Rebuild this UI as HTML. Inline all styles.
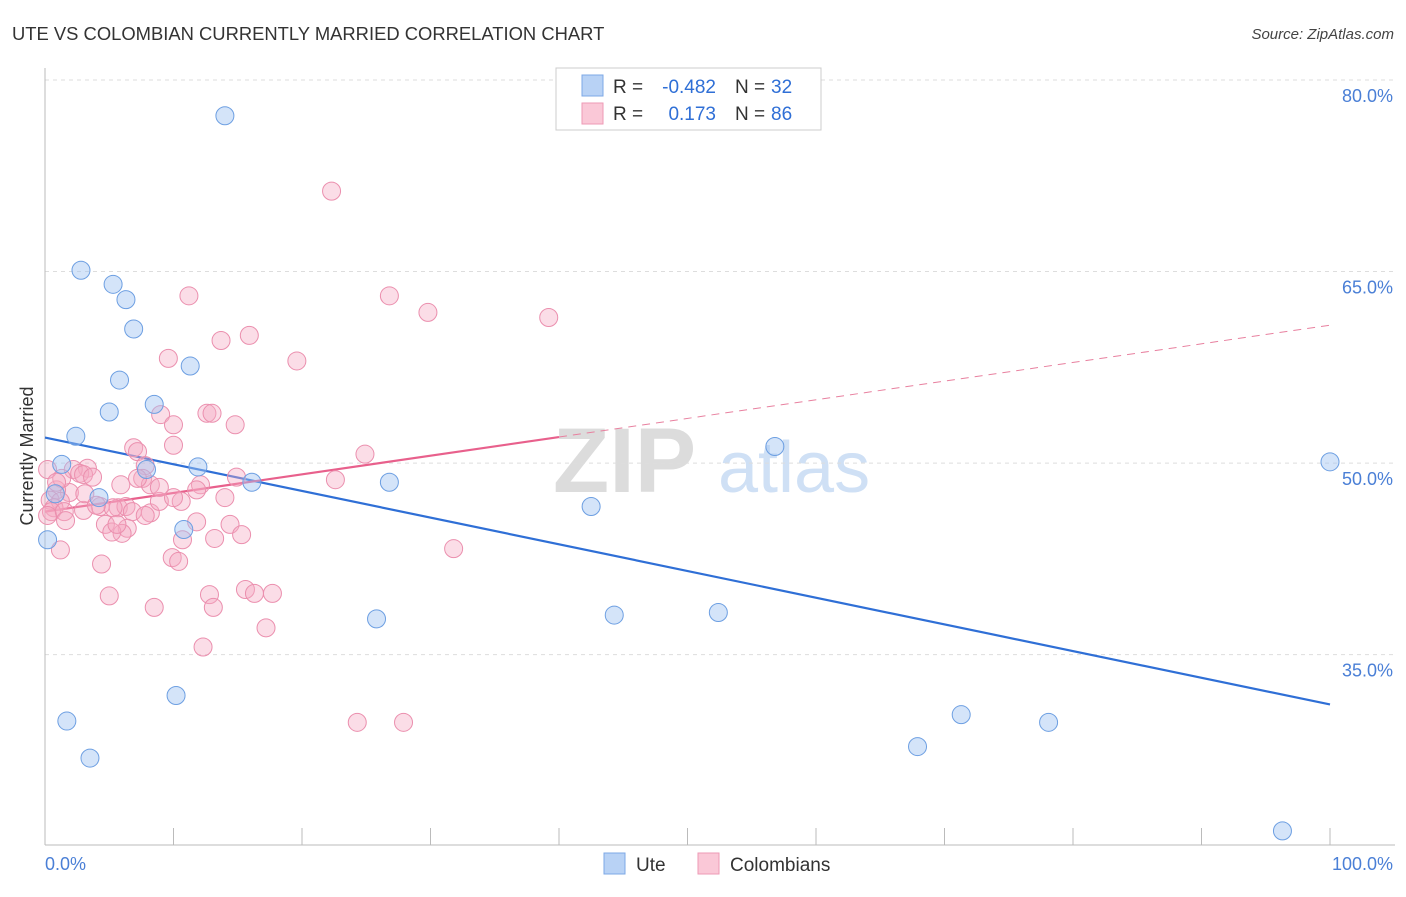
<!DOCTYPE html>
<html><head><meta charset="utf-8"><style>
body{margin:0;background:#fff;font-family:"Liberation Sans",sans-serif;}
svg text{font-family:"Liberation Sans",sans-serif;}
</style></head><body>
<svg id="chart" width="1406" height="892" xmlns="http://www.w3.org/2000/svg">
<text x="12" y="40" font-size="18.4" fill="#333">UTE VS COLOMBIAN CURRENTLY MARRIED CORRELATION CHART</text>
<text x="1394" y="39" font-size="15" fill="#444" font-style="italic" text-anchor="end">Source: ZipAtlas.com</text>
<g>
<text x="553" y="492" font-size="92" fill="#dcdcdc" font-family="Liberation Serif" font-weight="bold">ZIP</text>
<text x="718" y="492" font-size="72" fill="#cfe0f5">atlas</text>
</g>
<g id="grid"></g>
<g id="axes"></g>
<g id="trends"></g>
<g id="points"></g>
<g>
<rect x="556" y="68" width="265" height="62" fill="#fff" stroke="#ccc"/>
<rect x="582" y="75" width="21" height="21" fill="#b8d2f5" stroke="#7da8e6"/>
<rect x="582" y="103" width="21" height="21" fill="#fac8d7" stroke="#ee9ab5"/>
<text x="613" y="93" font-size="19" fill="#333">R =</text>
<text x="716" y="93" font-size="19" fill="#2f6fd6" text-anchor="end">-0.482</text>
<text x="735" y="93" font-size="19" fill="#333">N =</text>
<text x="771" y="93" font-size="19" fill="#2f6fd6">32</text>
<text x="613" y="120" font-size="19" fill="#333">R =</text>
<text x="716" y="120" font-size="19" fill="#2f6fd6" text-anchor="end">0.173</text>
<text x="735" y="120" font-size="19" fill="#333">N =</text>
<text x="771" y="120" font-size="19" fill="#2f6fd6">86</text>
</g>
<g>
<rect x="604" y="853" width="21" height="21" fill="#b8d2f5" stroke="#7da8e6"/>
<text x="636" y="871" font-size="19" fill="#333">Ute</text>
<rect x="698" y="853" width="21" height="21" fill="#fac8d7" stroke="#ee9ab5"/>
<text x="730" y="871" font-size="19" fill="#333">Colombians</text>
</g>
<text transform="translate(33,456) rotate(-90)" font-size="18" fill="#333" text-anchor="middle">Currently Married</text>
<text x="45" y="870" font-size="18" fill="#4a7fd6">0.0%</text>
<text x="1393" y="870" font-size="18" fill="#4a7fd6" text-anchor="end">100.0%</text>
</svg>
<script>
const yTicks=[80,65,50,35];
const yTickLabels=["80.0%","65.0%","50.0%","35.0%"];
const uteX=[14.0,2.8,5.3,6.3,6.9,5.8,11.3,5.0,8.5,2.4,1.3,7.9,11.9,16.1,4.2,0.8,0.2,10.8,26.8,25.8,10.2,1.7,3.5,42.5,44.3,52.4,56.8,71.3,78.1,67.9,96.3,100];
const uteY=[77.2,65.1,64.0,62.8,60.5,56.5,57.6,54.0,54.6,52.1,49.9,49.5,49.7,48.5,47.3,47.6,44.0,44.8,48.5,37.8,31.8,29.8,26.9,46.6,38.1,38.3,51.3,30.3,29.7,27.8,21.2,50.1];
const colX=[22.3,11.2,26.8,29.8,39.2,15.9,13.7,9.6,19.6,9.0,12.6,13.0,14.8,10.0,6.9,7.2,10.0,24.9,7.8,3.3,2.2,2.7,3.0,3.7,14.9,22.6,7.6,8.2,5.9,12.1,11.8,1.9,0.9,0.4,1.2,0.7,0.5,0.2,1.5,1.6,4.3,3.0,5.7,6.3,6.8,8.2,8.9,10.6,14.0,4.7,6.4,6.0,5.2,7.8,11.8,14.4,15.3,10.7,13.2,9.9,10.4,31.8,1.2,4.4,5.0,8.5,12.8,13.1,15.6,16.3,17.7,17.2,12.3,24.3,27.9,1.3,0.2,0.9,3.1,5.3,7.2,8.9,4.0,10.0,5.6];
const colY=[71.3,63.1,63.1,61.8,61.4,60.0,59.6,58.2,58.0,53.8,53.9,53.9,53.0,53.0,51.2,50.9,51.4,50.7,49.8,49.6,49.5,49.2,49.1,48.9,48.9,48.7,48.8,48.3,48.3,48.3,47.9,47.7,47.9,47.1,47.0,46.5,46.2,45.9,46.2,45.5,46.6,46.3,46.5,46.6,46.2,46.1,47.0,47.0,47.3,45.2,44.9,44.5,44.6,45.9,45.4,45.2,44.4,44.0,44.1,42.6,42.3,43.3,43.2,42.1,39.6,38.7,39.7,38.7,40.1,39.8,39.8,37.1,35.6,29.7,29.7,48.8,49.5,48.5,47.6,46.5,48.8,48.1,46.7,47.3,45.2];
const uteTrend=[52.0,31.1];
const colTrend=[46.2,60.8];
const colSolidEnd=40;

const NS="http://www.w3.org/2000/svg";
const sx=v=>45+v*12.85;
const sy=v=>80+(80-v)*12.77;
function mk(tag,attrs,parent){const e=document.createElementNS(NS,tag);for(const k in attrs)e.setAttribute(k,attrs[k]);parent.appendChild(e);return e;}
const grid=document.getElementById('grid'),axes=document.getElementById('axes'),tr=document.getElementById('trends'),pts=document.getElementById('points');
yTicks.forEach((t,i)=>{
 const l=mk('line',{x1:45,x2:1395,y1:sy(t),y2:sy(t),stroke:'#ddd','stroke-dasharray':'4,4'},grid);
 
 
 const tx=mk('text',{x:1393,y:sy(t)+22,'font-size':18,fill:'#4a7fd6','text-anchor':'end'},grid);
 tx.textContent=yTickLabels[i];
 
 
});
const ya=mk('line',{x1:45,x2:45,y1:68,y2:845,stroke:'#bbb'},axes);


const xa=mk('line',{x1:45,x2:1395,y1:845,y2:845,stroke:'#bbb'},axes);


for(let i=1;i<=10;i++){
 const tk=mk('line',{x1:sx(i*10),x2:sx(i*10),y1:828,y2:845,stroke:'#bbb'},axes);
 
 
}
const colLine=v=>colTrend[0]+(colTrend[1]-colTrend[0])*v/100;
const ut=mk('line',{x1:sx(0),y1:sy(uteTrend[0]),x2:sx(100),y2:sy(uteTrend[1]),stroke:'#2f6fd6','stroke-width':2.2},tr);


const cs=mk('line',{x1:sx(0),y1:sy(colLine(0)),x2:sx(colSolidEnd),y2:sy(colLine(colSolidEnd)),stroke:'#e8608c','stroke-width':2.2},tr);


const cd=mk('line',{x1:sx(colSolidEnd),y1:sy(colLine(colSolidEnd)),x2:sx(100),y2:sy(colLine(100)),stroke:'#e8809f','stroke-width':1,'stroke-dasharray':'8,6'},tr);


colX.forEach((x,i)=>{
 const c=mk('circle',{cx:sx(x),cy:sy(colY[i]),r:9,fill:'rgba(246,170,196,0.4)',stroke:'#eb8fae','stroke-width':1},pts);
 
 
});
uteX.forEach((x,i)=>{
 const c=mk('circle',{cx:sx(x),cy:sy(uteY[i]),r:9,fill:'rgba(160,196,242,0.45)',stroke:'#6d9fe2','stroke-width':1},pts);
 
 
});
</script>
</body></html>
